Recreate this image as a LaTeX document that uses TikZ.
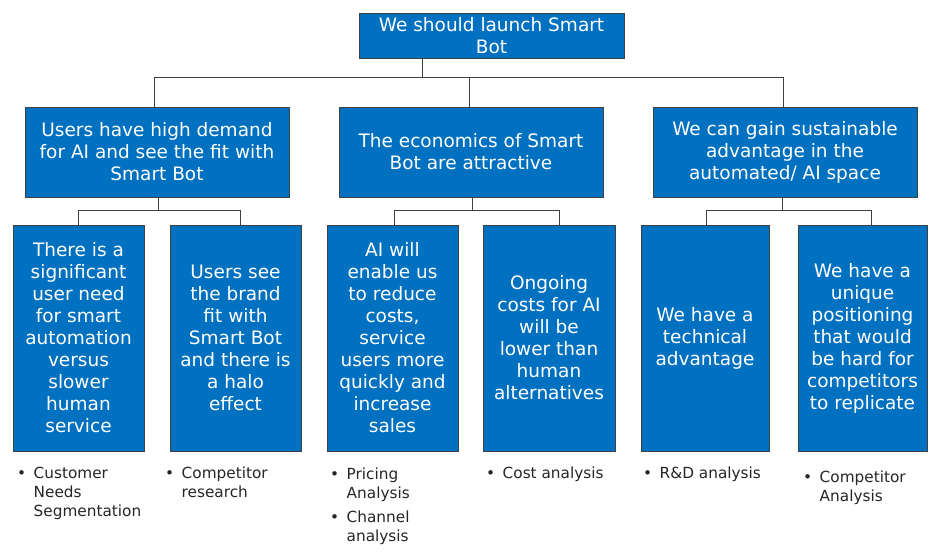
\documentclass[tikz,border=0pt]{standalone}
\usepackage{fontspec}
\setmainfont{DejaVu Sans}
\definecolor{boxblue}{RGB}{0,112,192}
\definecolor{linegray}{RGB}{64,64,64}
\begin{document}
\begin{tikzpicture}[x=1pt,y=-1pt,
  box/.style={draw=linegray, line width=0.8pt, fill=boxblue, text=white, align=center,
    font=\fontsize{18.5}{22}\selectfont, inner sep=2pt},
  lvtwo/.style={box, minimum width=264pt, minimum height=90pt},
  lvthree/.style={box, minimum width=131pt, minimum height=226pt},
  conn/.style={draw=linegray, line width=1pt},
  bul/.style={anchor=north west, inner sep=0pt, text=black!85, align=left,
    font=\fontsize{15.3}{19}\selectfont}]
\useasboundingbox (0,0) rectangle (939,552);
\fill[white] (0,0) rectangle (939,552);

% top
\node[box, minimum width=265pt, minimum height=45pt] (top) at (491.5,35.5) {We should launch Smart\\Bot};

% level 2
\node[lvtwo] (A) at (157,152) {Users have high demand\\for AI and see the fit with\\Smart Bot};
\node[lvtwo] (B) at (471,152) {The economics of Smart\\Bot are attractive};
\node[lvtwo] (C) at (785,152) {We can gain sustainable\\advantage in the\\automated/ AI space};

% level 3
\node[lvthree] (A1) at (78.5,338) {There is a\\significant\\user need\\for smart\\automation\\versus\\slower\\human\\service};
\node[lvthree] (A2) at (235.5,338) {Users see\\the brand\\fit with\\Smart Bot\\and there is\\a halo\\effect};
\node[lvthree] (B1) at (392.5,338) {AI will\\enable us\\to reduce\\costs,\\service\\users more\\quickly and\\increase\\sales};
\node[lvthree, minimum width=132pt] (B2) at (549,338) {Ongoing\\costs for AI\\will be\\lower than\\human\\alternatives};
\node[lvthree, minimum width=128pt] (C1) at (705,338) {We have a\\technical\\advantage};
\node[lvthree, minimum width=129pt] (C2) at (862.5,338) {We have a\\unique\\positioning\\that would\\be hard for\\competitors\\to replicate};

% top connectors
\coordinate (j0) at (422,77);
\draw[conn] (top.south -| j0) -- (j0);
\draw[conn] ([xshift=-3pt]A.north) -- ([xshift=-3pt]A.north |- j0) -- ([xshift=-2pt]C.north |- j0) -- ([xshift=-2pt]C.north);
\draw[conn] ([xshift=-2pt]B.north) -- ([xshift=-2pt]B.north |- j0);

% lower connectors
\draw[conn] ([xshift=1pt]A.south) -- ++(0,14);
\draw[conn] (A1.north) -- ++(0,-14) -| ([xshift=4.5pt]A2.north);
\draw[conn] ([xshift=1pt]B.south) -- ++(0,14);
\draw[conn] ([xshift=1.5pt]B1.north) -- ++(0,-14) -| ([xshift=10pt]B2.north);
\draw[conn] ([xshift=-3pt]C.south) -- ++(0,14);
\draw[conn] ([xshift=1pt]C1.north) -- ++(0,-14) -| ([xshift=8.5pt]C2.north);

% bullet lists
\node[bul] (bA1) at (17,465) {\begin{tabular}{@{}l@{\hspace{7.5pt}}l@{}}\textbullet & Customer\\ & Needs\\ & Segmentation\end{tabular}};
\node[bul] (bA2) at (165,465) {\begin{tabular}{@{}l@{\hspace{7.5pt}}l@{}}\textbullet & Competitor\\ & research\end{tabular}};
\node[bul] (bB1) at (330,466) {\begin{tabular}{@{}l@{\hspace{7.5pt}}l@{}}\textbullet & Pricing\\ & Analysis\\[5pt]\textbullet & Channel\\ & analysis\end{tabular}};
\node[bul] (bB2) at (486,465) {\begin{tabular}{@{}l@{\hspace{7.5pt}}l@{}}\textbullet & Cost analysis\end{tabular}};
\node[bul] (bC1) at (643,465) {\begin{tabular}{@{}l@{\hspace{7.5pt}}l@{}}\textbullet & R\&D analysis\end{tabular}};
\node[bul] (bC2) at (803,469) {\begin{tabular}{@{}l@{\hspace{7.5pt}}l@{}}\textbullet & Competitor\\ & Analysis\end{tabular}};
\end{tikzpicture}
\end{document}
